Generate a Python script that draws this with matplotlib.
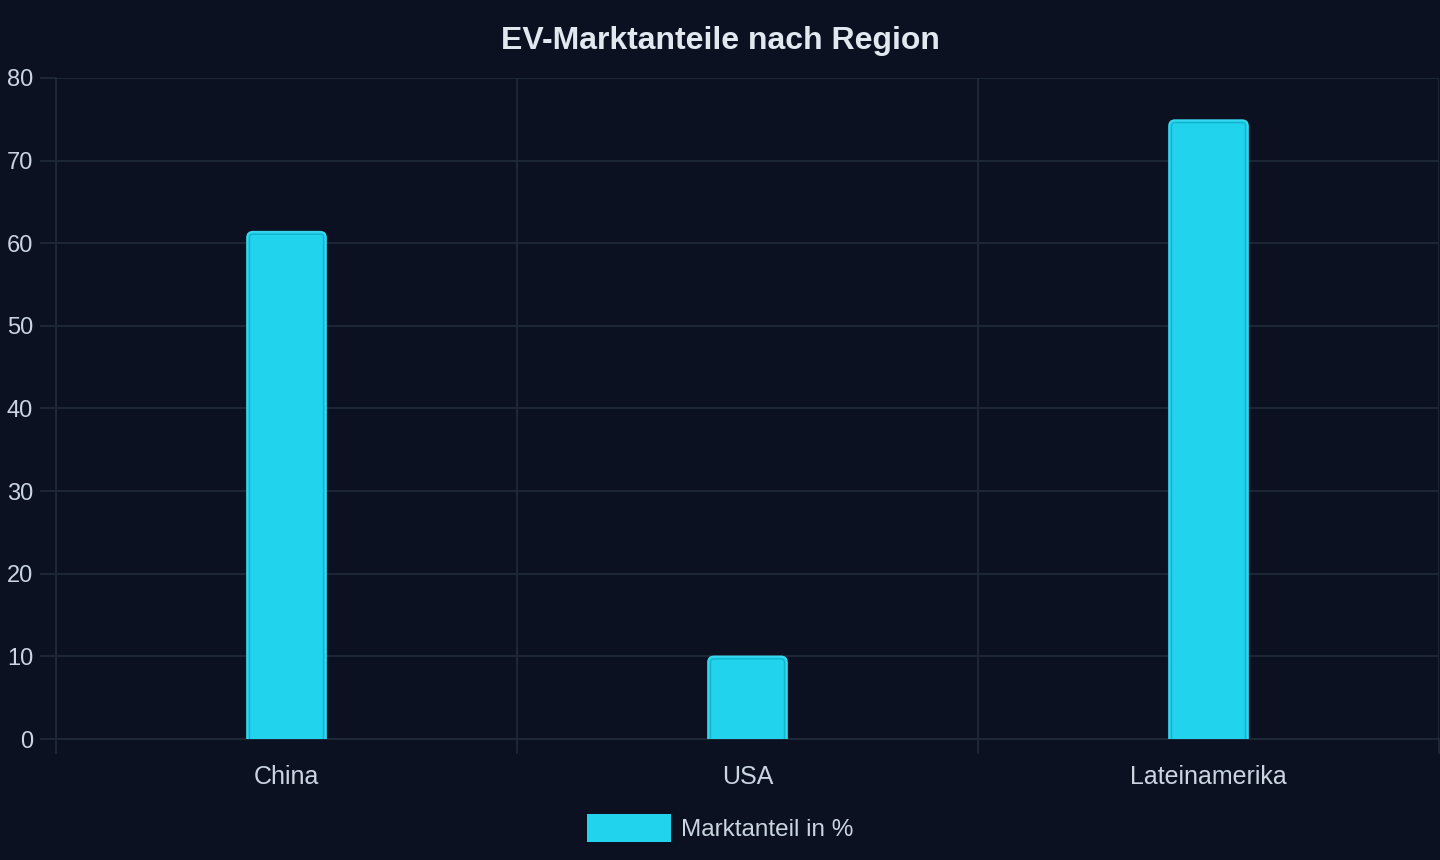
import matplotlib
matplotlib.use("Agg")
import matplotlib.pyplot as plt
from matplotlib.patches import FancyBboxPatch
from matplotlib.ticker import MultipleLocator, FixedLocator

categories = ["China", "USA", "Lateinamerika"]
values = [61.4, 10.0, 74.9]
series_label = "Marktanteil in %"
title = "EV-Marktanteile nach Region"

BG = "#0b1120"
GRID = "#1f2937"
FILL = "#22d3ee"
OUTER = "#3ad8ef"
INNER = "#14b4cc"
TXT = "#cbd5e1"

plt.rcParams["font.family"] = ["Liberation Sans", "DejaVu Sans"]

fig = plt.figure(figsize=(14.4, 8.6), dpi=100, facecolor=BG)
ax = fig.add_axes([56 / 1440, 1 - 739 / 860, 1383 / 1440, 661 / 860])
ax.set_facecolor(BG)

x = list(range(len(categories)))
bar_w = 79 / 461
ax.set_xlim(-0.5, len(categories) - 0.5)
ax.set_ylim(0, 80)

bars = ax.bar(x, values, width=bar_w, color=FILL, alpha=0)

fig.canvas.draw()
px_x = ax.transData.transform((1, 0))[0] - ax.transData.transform((0, 0))[0]
px_y = ax.transData.transform((0, 1))[1] - ax.transData.transform((0, 0))[1]
aspect = px_x / px_y
r_px = 6
inset = 2.5
for xi, v in zip(x, values):
    p = FancyBboxPatch((xi - bar_w / 2, -2), bar_w, v + 2,
                       boxstyle=f"round,pad=0,rounding_size={r_px / px_x}",
                       mutation_aspect=aspect,
                       facecolor=FILL, edgecolor=OUTER, linewidth=1.2, zorder=3)
    ax.add_patch(p)
    dx = inset / px_x
    dy = inset / px_y
    q = FancyBboxPatch((xi - bar_w / 2 + dx, -2), bar_w - 2 * dx, v + 2 - dy,
                       boxstyle=f"round,pad=0,rounding_size={(r_px - inset) / px_x}",
                       mutation_aspect=aspect,
                       facecolor="none", edgecolor=INNER, linewidth=1.0, zorder=4)
    ax.add_patch(q)

ax.yaxis.set_major_locator(MultipleLocator(10))
ax.xaxis.set_major_locator(FixedLocator(x))
ax.set_xticklabels(categories)
ax.xaxis.set_minor_locator(FixedLocator([i - 0.5 for i in range(len(categories) + 1)]))

ax.grid(True, axis="y", which="major", color=GRID, linewidth=1.3, zorder=0)
ax.grid(True, axis="x", which="minor", color=GRID, linewidth=1.3, zorder=0)
ax.grid(False, axis="x", which="major")
ax.set_axisbelow(True)

ax.tick_params(axis="x", which="major", length=0, pad=18.5, labelsize=18, labelcolor=TXT)
ax.tick_params(axis="x", which="minor", length=10.8, width=1.3, color=GRID)
ax.tick_params(axis="y", which="major", length=11.5, width=1.3, color=GRID, pad=5,
               labelsize=17, labelcolor=TXT)

for s in ["top", "right"]:
    ax.spines[s].set_visible(False)
for s in ["left", "bottom"]:
    ax.spines[s].set_color(GRID)
    ax.spines[s].set_linewidth(1.3)

fig.text(0.5, 1 - 41 / 860, title, ha="center", va="center",
         fontsize=23, fontweight="bold", color="#e2e8f0")

handle = plt.Rectangle((0, 0), 1, 1, facecolor=FILL, edgecolor="none")
leg = fig.legend([handle], [series_label], loc="center", bbox_to_anchor=(0.5, 1 - 828 / 860),
                 frameon=False, fontsize=17.5, labelcolor=TXT,
                 handlelength=3.45, handleheight=1.4, handletextpad=0.4)

fig.savefig("out.png", dpi=100, facecolor=BG)
